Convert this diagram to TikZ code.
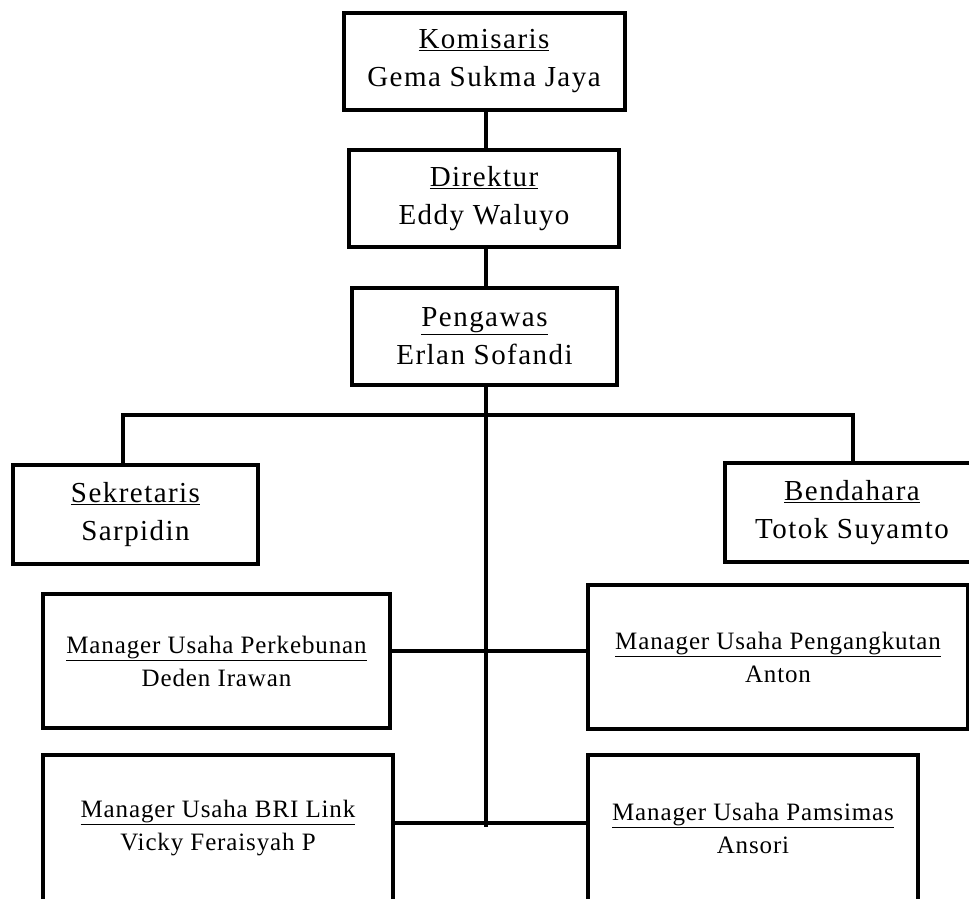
\documentclass[tikz,border=0pt]{standalone}
\usepackage{fontspec}
\setmainfont{Liberation Serif}
\usetikzlibrary{positioning, calc}

\begin{document}
\begin{tikzpicture}[x=1pt, y=-1pt,
    posbox/.style={draw, line width=4pt, fill=white, align=center, inner sep=0pt,
      font=\fontsize{29}{38}\selectfont\addfontfeature{LetterSpace=5}},
    mgrbox/.style={draw, line width=3.6pt, fill=white, align=center, inner sep=0pt,
      font=\fontsize{25}{33}\selectfont\addfontfeature{LetterSpace=3.5}},
    link/.style={line width=4.5pt},
    mgrlink/.style={line width=3.2pt}]

  \useasboundingbox (0,0) rectangle (969,898);

  % --- top chain ---
  \node[posbox, minimum width=281pt, minimum height=97pt] (kom) at (484,61.5) {\underline{Komisaris}\\Gema Sukma Jaya};
  \node[posbox, minimum width=270pt, minimum height=97pt] (dir) at (484,198.5) {\underline{Direktur}\\Eddy Waluyo};
  \node[posbox, minimum width=265pt, minimum height=97pt] (peng) at (484.5,336.5) {\underline{Pengawas}\\Erlan Sofandi};

  % --- staff ---
  \node[posbox, minimum width=245pt, minimum height=99pt] (sek) at (135.5,514.5) {\underline{Sekretaris}\\Sarpidin};
  \node[posbox, minimum width=254pt, minimum height=99pt] (ben) at (852,512.5) {\underline{Bendahara}\\Totok Suyamto};

  % --- managers ---
  \node[mgrbox, minimum width=347pt, minimum height=134pt] (perk) at (216.5,661) {\underline{Manager Usaha Perkebunan}\\Deden Irawan};
  \node[mgrbox, minimum width=380pt, minimum height=144pt] (angk) at (778,657) {\underline{Manager Usaha Pengangkutan}\\Anton};
  \node[mgrbox, minimum width=350pt, minimum height=146pt] (bri) at (218,828) {\underline{Manager Usaha BRI Link}\\Vicky Feraisyah P};
  \node[mgrbox, minimum width=330pt, minimum height=146pt] (pams) at (753,828) {\underline{Manager Usaha Pamsimas}\\Ansori};

  % --- connectors ---
  \coordinate (bus) at (486,415);
  \coordinate (rowa) at (486,651);
  \coordinate (rowb) at (486,823);
  \coordinate (tend) at (486,827);

  \draw[link] (kom.south -| bus) -- (dir.north -| bus);
  \draw[link] (dir.south -| bus) -- (peng.north -| bus);
  \draw[link] (peng.south -| bus) -- (tend);
  \draw[link] ([xshift=-12.5pt]sek.north) |- (bus) -| ([xshift=1pt]ben.north);
  \draw[mgrlink] (perk.east |- rowa) -- (angk.west |- rowa);
  \draw[mgrlink] (bri.east |- rowb) -- (pams.west |- rowb);
\end{tikzpicture}
\end{document}
